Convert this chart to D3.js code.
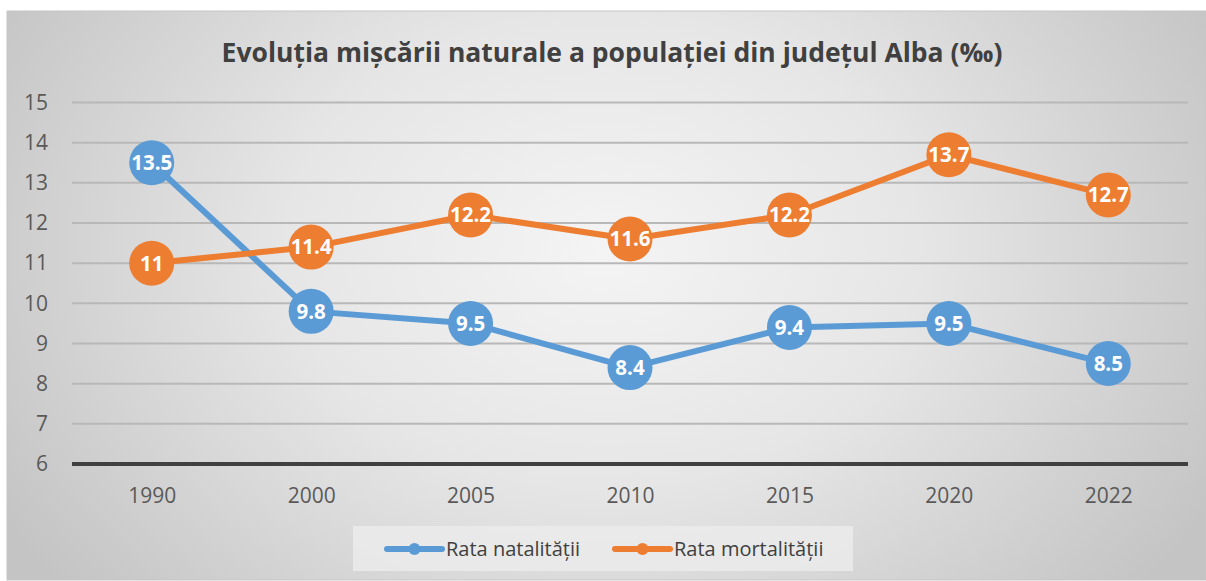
<!DOCTYPE html>
<html><head><meta charset="utf-8">
<script src="https://cdn.jsdelivr.net/npm/d3@7"></script>
<style>html,body{margin:0;padding:0;background:#fff;}svg{display:block;}</style>
</head><body>
<svg id="c" width="1206" height="581"></svg>
<script>
const years = ["1990","2000","2005","2010","2015","2020","2022"];
const natalitate = [13.5, 9.8, 9.5, 8.4, 9.4, 9.5, 8.5];
const mortalitate = [11, 11.4, 12.2, 11.6, 12.2, 13.7, 12.7];
const yTicks = [6,7,8,9,10,11,12,13,14,15];
const seriesNames = ["Rata natalității", "Rata mortalității"];
const colors = ["#5B9BD5", "#ED7D31"];
const title = "Evoluția mișcării naturale a populației din județul Alba (‰)";

const svg = d3.select("#c");
const font = "'Open Sans', 'Liberation Sans', sans-serif";
const defs = svg.append("defs");
const g = defs.append("radialGradient").attr("id","bg")
  .attr("gradientUnits","userSpaceOnUse").attr("cx",603).attr("cy",250).attr("r",700)
  .attr("gradientTransform","translate(603,250) scale(1,0.75) translate(-603,-250)");
g.append("stop").attr("offset","0").attr("stop-color","#f4f4f4");
g.append("stop").attr("offset","0.45").attr("stop-color","#e6e6e6");
g.append("stop").attr("offset","1").attr("stop-color","#c4c4c4");

svg.append("rect").attr("x",7).attr("y",11).attr("width",1199).attr("height",569)
  .attr("fill","url(#bg)").attr("stroke","#c6c6c6").attr("stroke-width",1);

const x = d3.scalePoint().domain(years).range([72,1188]).padding(0.5);
const y = d3.scaleLinear().domain([6,15]).range([464,102.5]);

// gridlines
svg.append("g").selectAll("line").data(yTicks.filter(t=>t>6)).join("line")
  .attr("x1",72).attr("x2",1188).attr("y1",d=>y(d)).attr("y2",d=>y(d))
  .attr("stroke","#b8b8b8").attr("stroke-width",2);

// y axis labels
const yAxis = d3.axisLeft(y).tickValues(yTicks).tickSize(0).tickPadding(0);
const ya = svg.append("g").attr("transform","translate(48,0)").call(yAxis);
ya.select(".domain").remove();
ya.selectAll("text").attr("font-family",font).attr("font-size",21).attr("fill","#595959")
  .attr("text-anchor","end").attr("x",0);

// x axis
svg.append("line").attr("x1",72).attr("x2",1188).attr("y1",y(6)).attr("y2",y(6))
  .attr("stroke","#404040").attr("stroke-width",4);
const xAxis = d3.axisBottom(x).tickSize(0).tickPadding(0);
const xa = svg.append("g").attr("transform",`translate(0,${y(6)+39})`).call(xAxis);
xa.select(".domain").remove();
xa.selectAll("text").attr("font-family",font).attr("font-size",21).attr("fill","#595959").attr("dy","0");

// title
svg.append("text").attr("x",612).attr("y",62).attr("text-anchor","middle")
  .attr("font-family",font).attr("font-weight","bold").attr("font-size",26.5)
  .attr("fill","#404040").text(title);

const series = [natalitate, mortalitate];
const line = d3.line().x((d,i)=>x(years[i])).y(d=>y(d));
series.forEach((s,k)=>{
  svg.append("path").datum(s).attr("d",line).attr("fill","none")
    .attr("stroke",colors[k]).attr("stroke-width",6).attr("stroke-linejoin","round");
});
series.forEach((s,k)=>{
  const gg = svg.append("g");
  gg.selectAll("circle").data(s).join("circle")
    .attr("cx",(d,i)=>x(years[i])).attr("cy",d=>y(d)).attr("r",22.5).attr("fill",colors[k]);
  gg.selectAll("text").data(s).join("text")
    .attr("x",(d,i)=>x(years[i])).attr("y",d=>y(d)).attr("dy","0.36em")
    .attr("text-anchor","middle").attr("font-family",font).attr("font-weight","bold")
    .attr("font-size",20.5).attr("fill","#fff").text(d=>String(d));
});

// legend
svg.append("rect").attr("x",353).attr("y",526).attr("width",500).attr("height",45)
  .attr("fill","#ebebeb").attr("opacity",0.85);
const legX = [387, 615];
seriesNames.forEach((n,k)=>{
  const lg = svg.append("g");
  lg.append("line").attr("x1",legX[k]).attr("x2",legX[k]+55).attr("y1",549).attr("y2",549)
    .attr("stroke",colors[k]).attr("stroke-width",6).attr("stroke-linecap","round");
  lg.append("circle").attr("cx",legX[k]+27.5).attr("cy",549).attr("r",6).attr("fill",colors[k]);
  lg.append("text").attr("x",legX[k]+59).attr("y",549).attr("dy","0.36em")
    .attr("font-family",font).attr("font-size",20).attr("fill","#404040").text(n);
});
</script>
</body></html>
